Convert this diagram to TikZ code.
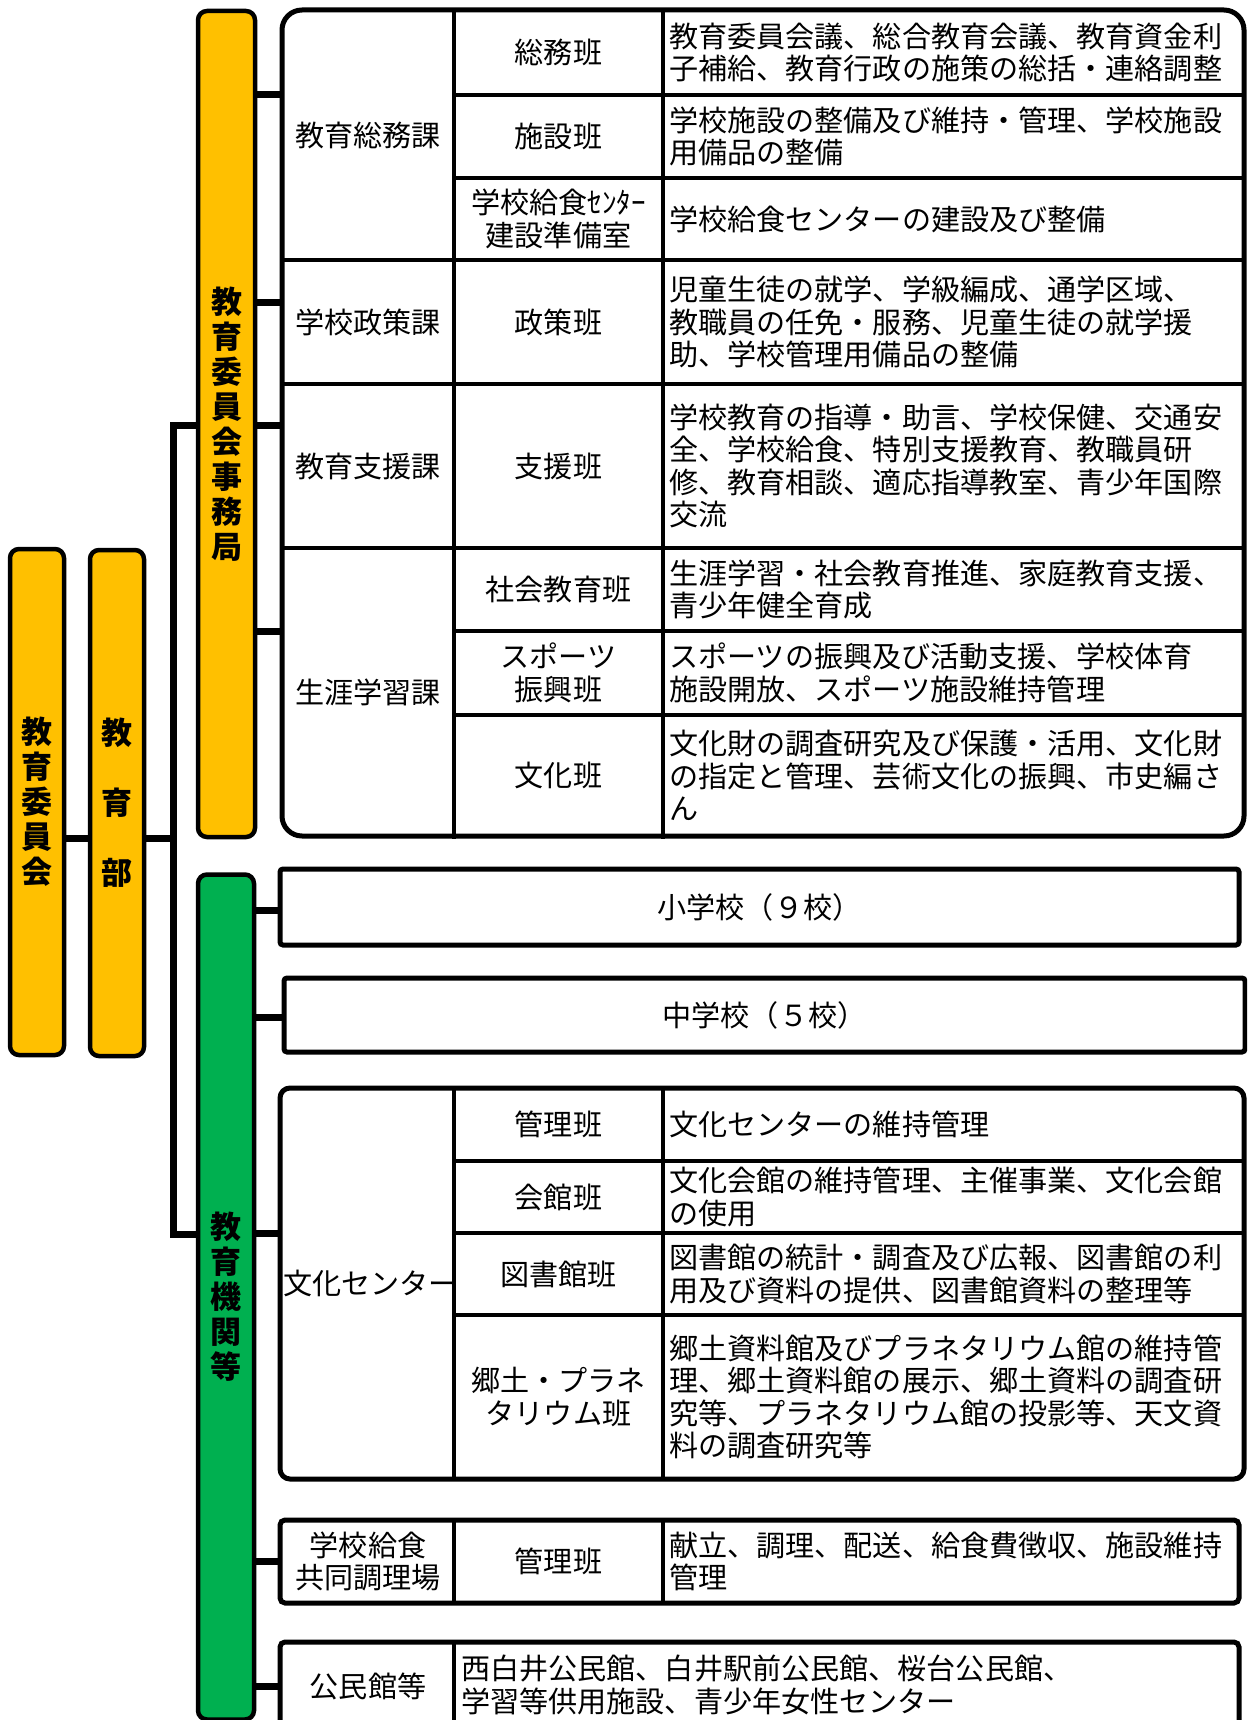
\documentclass[tikz,border=0pt]{standalone}
\usepackage{fontspec}
\newfontfamily\jp{Noto Sans CJK JP}
\usepackage{tikz}
\usepackage{xcolor}
\definecolor{gold}{HTML}{FFC000}
\definecolor{leaf}{HTML}{00B050}
\tikzset{
  bar/.style={draw=black, line width=4.5pt, rounded corners=9pt,
              inner sep=0pt, align=center,
              font=\jp\bfseries\fontsize{31}{35}\selectfont},
  ybar/.style={bar, fill=gold},
  gbar/.style={bar, fill=leaf},
  boxframe/.style={draw=black, line width=5pt, fill=white, inner sep=0pt,
                   align=center, font=\jp\fontsize{29.1}{32.5}\selectfont},
  tabline/.style={line width=3.5pt},
  conn/.style={line width=7pt},
  cell/.style={inner sep=0pt, align=center,
               font=\jp\fontsize{29.1}{32.5}\selectfont},
  desc/.style={cell, anchor=west, align=left},
}

\begin{document}
\begin{tikzpicture}[x=1pt, y=-1pt]

  \useasboundingbox (0,0) rectangle (1247,1720);
  \clip (0,0) rectangle (1247,1720);

  %% Bars
  \node[ybar, minimum width=54pt, minimum height=506pt] (iinkai)
    at (37,802) {教\\育\\委\\員\\会};
  \node[ybar, minimum width=54pt, minimum height=506pt,
        font=\jp\bfseries\fontsize{31}{70}\selectfont] (kyoikubu)
    at (117,803) {教\\育\\部};
  \node[ybar, minimum width=57pt, minimum height=826pt] (jimu)
    at (226.5,424) {教\\育\\委\\員\\会\\事\\務\\局};
  \node[gbar, minimum width=56pt, minimum height=845pt] (kikan)
    at (226,1297) {教\\育\\機\\関\\等};

  %% Trunk
  \coordinate (trunk) at (173,838);
  \draw[conn] (iinkai.east |- trunk) -- (kyoikubu.west |- trunk);
  \draw[conn] (kyoikubu.east |- trunk) -- (trunk);
  \draw[conn] (jimu.west |- 0,425) -| (trunk) |- (kikan.west |- 0,1234);

  %% --- UPPER TABLE ---
  \node[boxframe, rounded corners=20pt, minimum width=962pt,
        minimum height=826pt] (kyoku) at (763,423) {};
  \draw[tabline] (454,10) -- (454,839);
  \draw[tabline] (663,10) -- (663,839);
  \foreach \y in {95,178,631,715}{
    \draw[tabline] (454,\y) -- (1244,\y);
  }
  \foreach \y in {260,384,548}{
    \draw[tabline] (282,\y) -- (1244,\y);
  }
  \foreach \y in {95,302,425,631}{
    \draw[conn] (jimu.east |- 0,\y) -- (kyoku.west |- 0,\y);
  }

  %% Sections
  \node[cell] (soumuka)  at (368,135) {教育総務課};
  \node[cell] (seisakuka) at (368,322) {学校政策課};
  \node[cell] (shienka)  at (368,466) {教育支援課};
  \node[cell] (shogaika) at (368,692) {生涯学習課};

  %% Teams
  \node[cell] (soumu)   at (558.5,52.5)  {総務班};
  \node[cell] (shisetsu) at (558.5,136.5) {施設班};
  \node[cell] (junbi)   at (558.5,219)   {学校給食ｾﾝﾀｰ\\建設準備室};
  \node[cell] (seisaku) at (558.5,322)   {政策班};
  \node[cell] (shien)   at (558.5,466)   {支援班};
  \node[cell] (shakai)  at (558.5,589.5) {社会教育班};
  \node[cell] (sports)  at (558.5,673)   {スポーツ\\振興班};
  \node[cell] (bunkah)  at (558.5,775.5) {文化班};

  %% Duties
  \node[desc] (soumu-d) at (669,52.5)
    {教育委員会議、総合教育会議、教育資金利\\子補給、教育行政の施策の総括・連絡調整};
  \node[desc] (shisetsu-d) at (669,136.5)
    {学校施設の整備及び維持・管理、学校施設\\用備品の整備};
  \node[desc] (junbi-d) at (669,219)
    {学校給食センターの建設及び整備};
  \node[desc] (seisaku-d) at (669,322)
    {児童生徒の就学、学級編成、通学区域、\\教職員の任免・服務、児童生徒の就学援\\助、学校管理用備品の整備};
  \node[desc] (shien-d) at (669,466)
    {学校教育の指導・助言、学校保健、交通安\\全、学校給食、特別支援教育、教職員研\\修、教育相談、適応指導教室、青少年国際\\交流};
  \node[desc] (shakai-d) at (669,589.5)
    {生涯学習・社会教育推進、家庭教育支援、\\青少年健全育成};
  \node[desc] (sports-d) at (669,673)
    {スポーツの振興及び活動支援、学校体育\\施設開放、スポーツ施設維持管理};
  \node[desc] (bunkah-d) at (669,775.5)
    {文化財の調査研究及び保護・活用、文化財\\の指定と管理、芸術文化の振興、市史編さ\\ん};

  %% --- SCHOOLS ---
  \node[boxframe, rounded corners=3pt, minimum width=959pt,
        minimum height=76pt] (sho) at (759.5,907) {小学校（９校）};
  \node[boxframe, rounded corners=3pt, minimum width=961pt,
        minimum height=74pt] (chu) at (764.5,1015) {中学校（５校）};

  %% --- CULTURE CENTER ---
  \node[boxframe, rounded corners=10pt, minimum width=964pt,
        minimum height=391pt] (bunka) at (762,1283.5) {};
  \draw[tabline] (454,1088) -- (454,1479);
  \draw[tabline] (663,1088) -- (663,1479);
  \foreach \y in {1161,1233,1315}{
    \draw[tabline] (454,\y) -- (1244,\y);
  }
  \node[cell, anchor=west] (bunka-t) at (283,1283.5) {文化センター};
  \node[cell] (kanri)   at (558.5,1124.5) {管理班};
  \node[cell] (kaikan)  at (558.5,1197)   {会館班};
  \node[cell] (tosho)   at (558.5,1274)   {図書館班};
  \node[cell] (kyodo)   at (558.5,1397)   {郷土・プラネ\\タリウム班};
  \node[desc] (kanri-d) at (669,1124.5) {文化センターの維持管理};
  \node[desc] (kaikan-d) at (669,1197)
    {文化会館の維持管理、主催事業、文化会館\\の使用};
  \node[desc] (tosho-d) at (669,1274)
    {図書館の統計・調査及び広報、図書館の利\\用及び資料の提供、図書館資料の整理等};
  \node[desc] (kyodo-d) at (669,1397)
    {郷土資料館及びプラネタリウム館の維持管\\理、郷土資料館の展示、郷土資料の調査研\\究等、プラネタリウム館の投影等、天文資\\料の調査研究等};

  %% --- SCHOOL LUNCH ---
  \node[boxframe, rounded corners=5pt, minimum width=959pt,
        minimum height=83pt] (kyushoku) at (759.5,1561.5) {};
  \draw[tabline] (454,1520) -- (454,1603);
  \draw[tabline] (663,1520) -- (663,1603);
  \node[cell] (kyushoku-t) at (368,1561.5) {学校給食\\共同調理場};
  \node[cell] (kanri2)  at (558.5,1561.5) {管理班};
  \node[desc] (kanri2-d) at (669,1561.5)
    {献立、調理、配送、給食費徴収、施設維持\\管理};

  %% --- COMMUNITY HALLS ---
  \node[boxframe, rounded corners=5pt, minimum width=959pt,
        minimum height=90pt] (kominkan) at (759.5,1687) {};
  \draw[tabline] (454,1642) -- (454,1732);
  \node[cell] (kominkan-t) at (368,1686) {公民館等};
  \node[desc] (kominkan-d) at (461,1685)
    {西白井公民館、白井駅前公民館、桜台公民館、\\学習等供用施設、青少年女性センター};

  %% Links to institutions
  \foreach \y/\n in {910/sho, 1017/chu, 1233/bunka, 1561/kyushoku, 1686/kominkan}{
    \draw[conn] (kikan.east |- 0,\y) -- (\n.west |- 0,\y);
  }

\end{tikzpicture}
\end{document}
